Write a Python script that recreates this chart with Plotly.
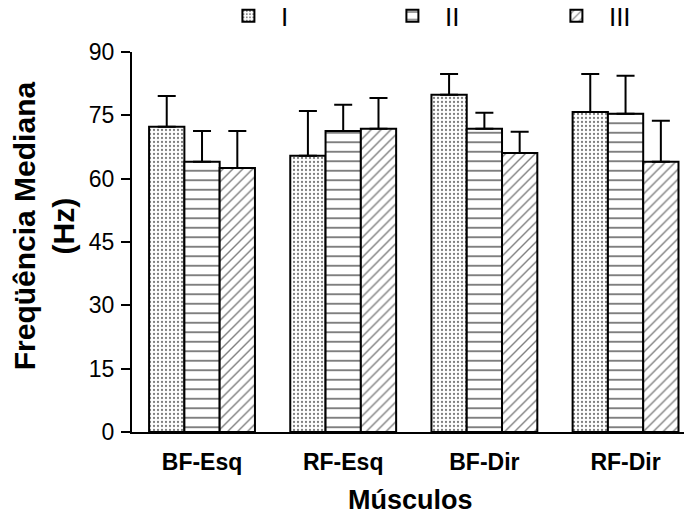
import plotly.graph_objects as go

categories = ["BF-Esq", "RF-Esq", "BF-Dir", "RF-Dir"]
series_names = ["I", "II", "III"]
means_I = [72.3, 65.4, 79.9, 75.8]
means_II = [64.0, 71.3, 71.8, 75.4]
means_III = [62.5, 71.8, 66.1, 64.0]
sd_I = [7.3, 10.6, 4.9, 9.0]
sd_II = [7.3, 6.2, 3.8, 9.0]
sd_III = [8.8, 7.3, 5.0, 9.7]
y_ticks = [0, 15, 30, 45, 60, 75, 90]

x_pos = list(range(len(categories)))
FONT = "Liberation Sans, Arial, sans-serif"

patterns = [
    dict(shape=".", size=4, solidity=0.25, fgcolor="black", bgcolor="white", fillmode="overlay"),
    dict(shape="-", size=9.5, solidity=0.2, fgcolor="black", bgcolor="white", fillmode="overlay"),
    dict(shape="/", size=7, solidity=0.2, fgcolor="black", bgcolor="white", fillmode="overlay"),
]

fig = go.Figure()
for name, means, sds, pat in zip(series_names, [means_I, means_II, means_III],
                                 [sd_I, sd_II, sd_III], patterns):
    fig.add_trace(go.Bar(
        x=x_pos, y=means, name=name,
        marker=dict(color="white", pattern=pat, line=dict(color="black", width=2)),
        error_y=dict(type="data", array=sds, arrayminus=[0] * len(sds), symmetric=False,
                     color="black", thickness=2, width=9),
    ))

fig.update_layout(
    width=684, height=519,
    margin=dict(l=132, r=0, t=52, b=87, autoexpand=False),
    paper_bgcolor="white", plot_bgcolor="white",
    barmode="group", bargap=0.25, bargroupgap=0,
    font=dict(family=FONT, color="black"),
    showlegend=True,
    legend=dict(orientation="h", x=0.152, xanchor="left", y=1.095, yanchor="middle",
                font=dict(size=26, family=FONT), itemwidth=55, entrywidth=94,
                traceorder="normal", bgcolor="rgba(0,0,0,0)"),
    xaxis=dict(
        range=[-0.496, 3.414], tickmode="array", tickvals=x_pos, ticktext=categories,
        showline=True, linecolor="black", linewidth=2, ticks="", showgrid=False,
        zeroline=False, tickfont=dict(size=23, family=FONT, weight="bold"),
        ticklabelstandoff=8,
    ),
    yaxis=dict(
        range=[0, 90], tickmode="array", tickvals=y_ticks,
        showline=True, linecolor="black", linewidth=2, ticks="outside", ticklen=9,
        tickwidth=2, tickcolor="black", showgrid=False, zeroline=False,
        tickfont=dict(size=23, family=FONT), ticklabelstandoff=2,
    ),
    annotations=[
        dict(text="<b>Freqüência Mediana<br>(Hz)</b>", x=-0.159, y=0.542,
             xref="paper", yref="paper", xanchor="center", yanchor="middle",
             textangle=-90, showarrow=False, font=dict(size=30, family=FONT)),
        dict(text="<b>Músculos</b>", x=0.504, y=-0.179,
             xref="paper", yref="paper", xanchor="center", yanchor="middle",
             showarrow=False, font=dict(size=27, family=FONT)),
    ],
)

# remove the default 8px page margin so the 684x519 figure fills the window exactly
fig.write_html(
    "out.html",
    config={"displayModeBar": False},
    post_script="document.body.style.margin='0';document.body.style.overflow='hidden';",
)
